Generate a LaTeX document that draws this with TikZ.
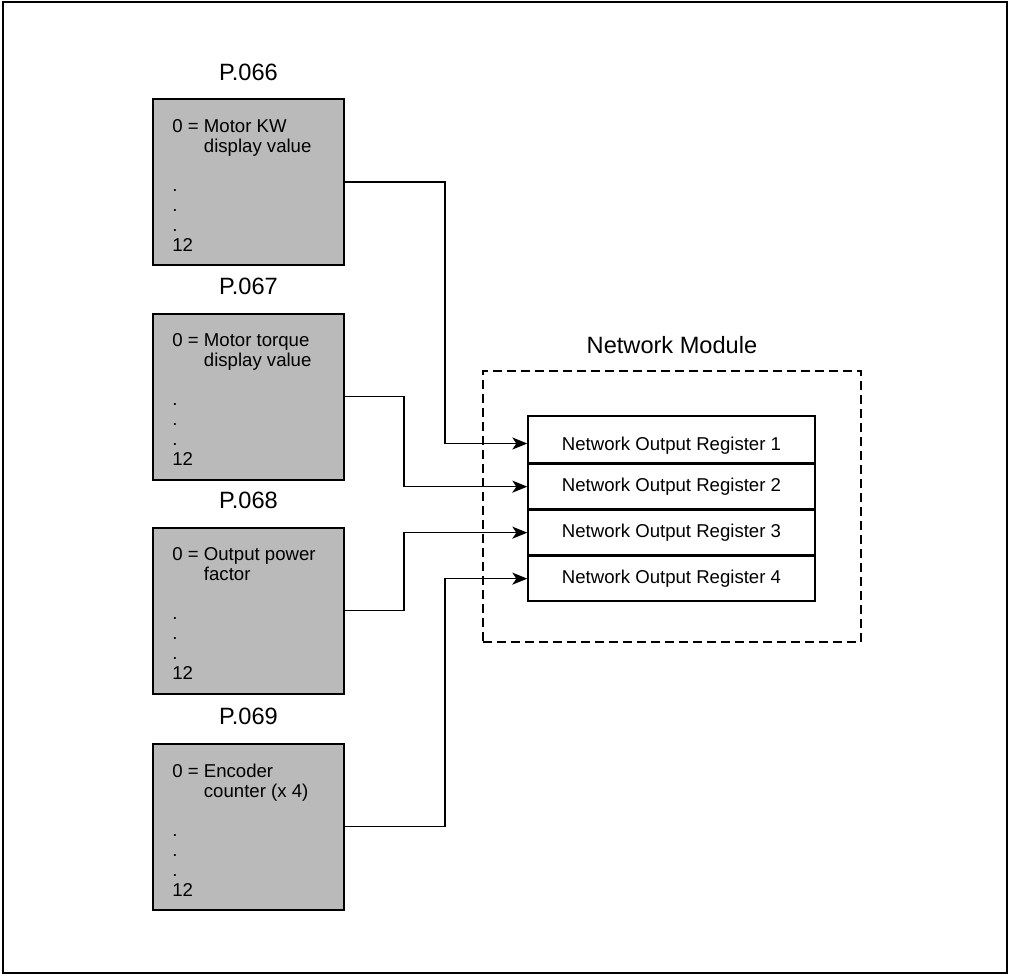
\documentclass[tikz,border=0pt]{standalone}
\usepackage{fontspec}
\setmainfont{Liberation Sans}
\usetikzlibrary{arrows.meta,positioning}
\definecolor{pgray}{RGB}{186,186,186}

\begin{document}
\begin{tikzpicture}[x=0.5pt,y=-0.5pt,
  pbox/.style={rectangle,draw,line width=1pt,fill=pgray,minimum width=95.5pt,
               minimum height=83pt,inner sep=0pt},
  ptext/.style={align=left,inner sep=0pt,anchor=north west,
               font=\fontsize{9.3}{10}\selectfont},
  plabel/.style={inner sep=0pt,font=\fontsize{11.8}{13}\selectfont},
  reg/.style={rectangle,draw,line width=0.65pt,minimum width=143.5pt,minimum height=22.35pt,
              inner sep=0pt,text height=6.7pt,text depth=1.95pt,font=\fontsize{9.3}{10}\selectfont},
  link/.style={-{Stealth[length=7.5pt,width=6pt,inset=2pt]},line width=0.8pt}]
\useasboundingbox (0,0) rectangle (1009,976);
\draw[line width=1pt] (3,2) rectangle (1007,973);
\node[pbox] (p66) at (248.5,182)   {};
\node[pbox] (p67) at (248.5,396.5) {};
\node[pbox] (p68) at (248.5,610.5) {};
\node[pbox] (p69) at (248.5,826.5) {};
\node[plabel,above=8.5pt of p66] (l66) {P.066};
\node[plabel,above=8.5pt of p67] (l67) {P.067};
\node[plabel,above=8.5pt of p68] (l68) {P.068};
\node[plabel,above=8.5pt of p69] (l69) {P.069};
\node[ptext] (t66) at ([xshift=10pt,yshift=-10.5pt]p66.north west) {0 = Motor KW\\\hphantom{0 = }display value\\[9.5pt].\\.\\.\\12};
\node[ptext] (t67) at ([xshift=10pt,yshift=-10.5pt]p67.north west) {0 = Motor torque\\\hphantom{0 = }display value\\[9.5pt].\\.\\.\\12};
\node[ptext] (t68) at ([xshift=10pt,yshift=-10.5pt]p68.north west) {0 = Output power\\\hphantom{0 = }factor\\[9.5pt].\\.\\.\\12};
\node[ptext] (t69) at ([xshift=10pt,yshift=-10.5pt]p69.north west) {0 = Encoder\\\hphantom{0 = }counter (x 4)\\[9.5pt].\\.\\.\\12};
\node[draw,dash pattern=on 4.5pt off 2.5pt,line width=0.8pt,minimum width=189pt,
      minimum height=135.5pt,inner sep=0pt] (netmod) at (672,506.5) {};
\node[plabel,above=8pt of netmod] (lmod) {Network Module};
\node[reg,minimum height=23.5pt,text height=12.7pt] (r1) at (671.5,439.5) {Network Output Register 1};
\node[reg,below=0pt of r1] (r2) {Network Output Register 2};
\node[reg,below=0pt of r2] (r3) {Network Output Register 3};
\node[reg,below=0pt of r3] (r4) {Network Output Register 4};
\draw[link] (p66.east) -- ++(100,0) |- ([yshift=-2pt]r1.west);
\draw[link] (p67.east) -- ++(59,0) |- (r2.west);
\draw[link] (p68.east) -- ++(59,0) |- (r3.west);
\draw[link] (p69.east) -- ++(100,0) |- (r4.west);
\end{tikzpicture}
\end{document}
